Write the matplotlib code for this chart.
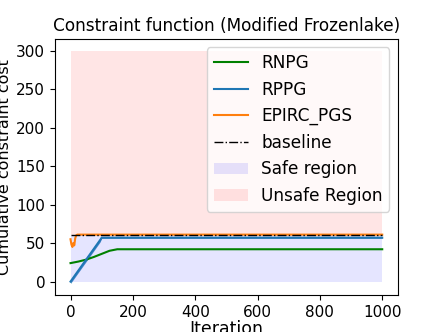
import matplotlib.pyplot as plt

iters = [0, 1000]
rnpg_x = [0, 25, 50, 75, 100, 125, 150, 1000]
rnpg_y = [24, 26, 28.5, 32, 36, 40, 42, 42]
rppg_x = [0, 95, 100, 1000]
rppg_y = [0, 54, 57, 57]
rppg_lo = [-2.5, 51.5, 56.3, 56.3]
rppg_hi = [2.5, 56.5, 57.7, 57.7]
epirc_x = [0, 3, 6, 9, 12, 15, 18, 22, 1000]
epirc_y = [55, 48, 45, 50, 47, 56, 60, 61, 61]
baseline = [60, 60]
safe_top = [60, 60]
unsafe_top = [300, 300]

fig, ax = plt.subplots(figsize=(4.43, 3.32), dpi=100)

ax.plot(rnpg_x, rnpg_y, color='green', lw=1.5, label='RNPG')
ax.plot(rppg_x, rppg_y, color='tab:blue', lw=1.5, label='RPPG')
ax.fill_between(rppg_x, rppg_lo, rppg_hi, color='tab:blue', alpha=0.8, lw=0)
ax.plot(epirc_x, epirc_y, color='tab:orange', lw=1.5, label='EPIRC_PGS')
ax.plot(iters, baseline, 'k-.', lw=1, label='baseline')
ax.fill_between(iters, 0, safe_top, color='blue', alpha=0.1, lw=0,
                label='Safe region')
ax.fill_between(iters, safe_top, unsafe_top, color='red', alpha=0.1, lw=0,
                label='Unsafe Region')

ax.set_title('Constraint function (Modified Frozenlake)', fontsize=12.2)
ax.set_xlabel('Iteration', fontsize=12.5, labelpad=0)
ax.set_ylabel('Cumulative constraint cost', fontsize=11.5, labelpad=3)
ax.tick_params(labelsize=11)
ax.set_xticks([0, 200, 400, 600, 800, 1000])
ax.set_yticks([0, 50, 100, 150, 200, 250, 300])
ax.legend(loc='upper right', fontsize=12.2)

fig.subplots_adjust(left=0.124, right=0.898, top=0.8825, bottom=0.111)
fig.savefig('out.png')
